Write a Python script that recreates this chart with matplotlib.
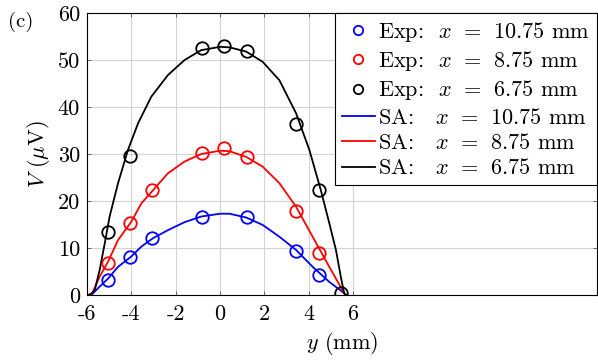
import matplotlib
matplotlib.use("Agg")
import matplotlib.pyplot as plt

plt.rcParams['font.family'] = ['cmr10', 'DejaVu Serif']
plt.rcParams['mathtext.fontset'] = 'cm'
plt.rcParams['axes.unicode_minus'] = False
plt.rcParams['axes.formatter.use_mathtext'] = True

# measured points (y in mm, V in uV)
y_exp = [-5.05, -4.05, -3.05, -0.8, 0.2, 1.2, 3.45, 4.45, 5.45]
v_exp_1075 = [3.3, 8.0, 12.2, 16.7, None, 16.5, 9.4, 4.3, None]
v_exp_875 = [6.8, 15.3, 22.4, 30.2, 31.2, 29.4, 17.9, 9.0, None]
v_exp_675 = [13.5, 29.5, None, 52.5, 53.0, 52.0, 36.4, 22.4, 0.4]

# SA curves, points
y_sa_1075 = [-5.8, -5.43, -5.05, -4.6, -4.0, -3.55, -3.02, -2.35, -1.6, -0.85, 0.0,
             0.43, 1.18, 1.93, 2.68, 3.43, 4.18, 4.93, 5.6, 5.68]
v_sa_1075 = [0.0, 1.8, 3.5, 6.0, 8.2, 10.3, 12.1, 13.8, 15.5, 16.7, 17.3,
             17.3, 16.5, 14.9, 12.4, 9.6, 6.0, 2.8, 0.4, 0.0]
y_sa_875 = [-5.8, -5.43, -5.05, -4.6, -4.0, -3.55, -3.02, -2.35, -1.6, -0.85, 0.0,
            0.43, 1.18, 1.93, 2.68, 3.43, 4.18, 4.93, 5.6, 5.68]
v_sa_875 = [0.0, 3.9, 7.1, 11.7, 15.6, 19.5, 22.3, 25.9, 28.4, 30.0, 30.7,
            30.6, 29.4, 27.3, 23.8, 18.8, 12.4, 6.0, 0.4, 0.0]
y_sa_675 = [-5.95, -5.8, -5.65, -5.43, -5.2, -4.98, -4.6, -4.15, -3.7, -3.1, -2.35, -1.6, -0.85, 0.0,
            0.43, 1.18, 1.93, 2.68, 3.43, 4.03, 4.55, 4.93, 5.23, 5.45, 5.6, 5.68]
v_sa_675 = [0.0, 0.3, 1.1, 5.3, 11.0, 16.7, 23.8, 30.9, 36.5, 42.2, 46.8, 50.0, 52.1, 52.8,
            52.7, 51.8, 49.6, 45.7, 38.7, 30.9, 22.3, 15.3, 9.6, 3.9, 0.4, 0.0]

xticks = [-6, -4, -2, 0, 2, 4, 6]
yticks = [0, 10, 20, 30, 40, 50, 60]

labels_exp = [r"Exp:  $x\;\,=\;\,10.75$ mm", r"Exp:  $x\;\,=\;\,8.75$ mm", r"Exp:  $x\;\,=\;\,6.75$ mm"]
labels_sa = [r"SA:   $x\;\,=\;\,10.75$ mm", r"SA:   $x\;\,=\;\,8.75$ mm", r"SA:   $x\;\,=\;\,6.75$ mm"]
colors = ["#0000ff", "#ff0000", "#000000"]

fig = plt.figure(figsize=(5.98, 3.62), dpi=100)
ax = fig.add_axes([0.1455, 0.185, 0.8525, 0.779])

fs = 16
exp_series = [v_exp_1075, v_exp_875, v_exp_675]
for vals, c, lab in zip(exp_series, colors, labels_exp):
    yy = [a for a, b in zip(y_exp, vals) if b is not None]
    vv = [b for b in vals if b is not None]
    ax.plot(yy, vv, linestyle='none', marker='o', markersize=9, markerfacecolor='none',
            markeredgecolor=c, markeredgewidth=1.3, label=lab, zorder=3)

for yy, vv, c, lab in zip([y_sa_1075, y_sa_875, y_sa_675], [v_sa_1075, v_sa_875, v_sa_675], colors, labels_sa):
    ax.plot(yy, vv, color=c, lw=1.3, label=lab, zorder=2)

ax.set_xlim(-6, 17)
ax.set_ylim(0, 60)
ax.set_xticks(xticks)
ax.set_xticklabels([str(t) for t in xticks], fontsize=fs)
ax.set_yticks(yticks)
ax.set_yticklabels([str(t) for t in yticks], fontsize=fs)
ax.grid(True, color='#d3d3d3', lw=0.8)
ax.set_axisbelow(True)
ax.tick_params(direction='in', length=3, width=0.6, color='#555555', top=True, right=True)
ax.tick_params(axis='x', pad=7)
ax.tick_params(axis='y', pad=5)
for s in ax.spines.values():
    s.set_linewidth(0.8)

ax.set_xlabel(r"$y$ (mm)", fontsize=fs, labelpad=4)
ax.set_ylabel(r"$V$ ($\mu$V)", fontsize=fs, labelpad=4)
fig.text(0.013, 0.925, "(c)", fontsize=fs - 1)

leg = ax.legend(loc='upper right', borderaxespad=0, fontsize=fs, fancybox=False,
                edgecolor='black', framealpha=1, handlelength=1.5, handletextpad=0.15,
                labelspacing=0.24, borderpad=0.3, markerscale=0.75)
leg.get_frame().set_linewidth(0.8)

fig.savefig("out.png", dpi=100)
